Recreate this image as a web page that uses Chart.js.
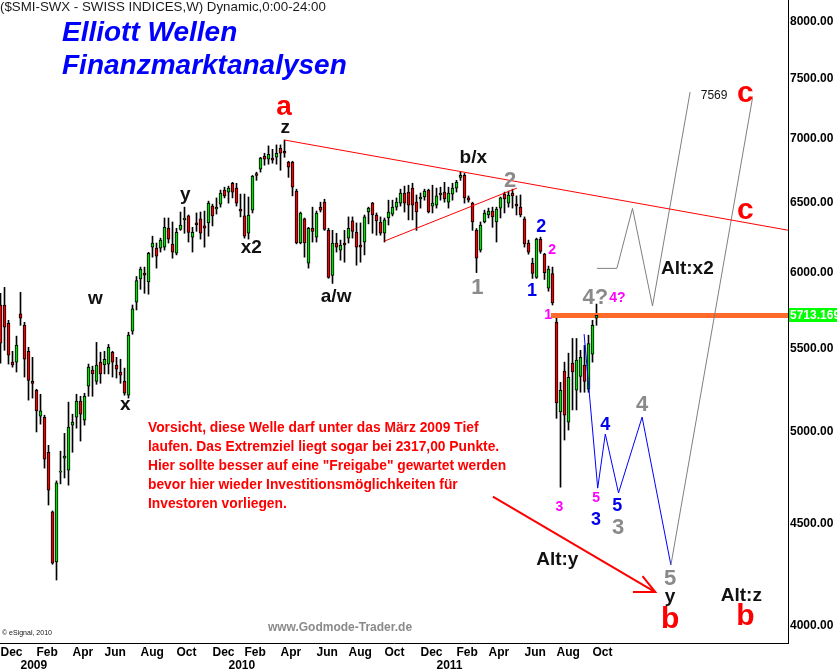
<!DOCTYPE html>
<html><head><meta charset="utf-8">
<script src="https://cdn.jsdelivr.net/npm/chart.js@4.4.0/dist/chart.umd.min.js"></script>
<style>html,body{margin:0;padding:0;background:#fff;}#wrap{width:837px;height:672px;}</style>
</head><body><div id="wrap"><canvas id="c" width="837" height="672"></canvas></div>
<script>
// ---- weekly SMI candles, first bar = week of 1 Dec 2008 ----
const opens = [5782,5782,5662,5415,5415,5723,5649,5483,5297,5243,
5089,5083,4883,4560,4305,4773,4850,4784,5037,5083,
5178,5066,5267,5366,5297,5415,5397,5403,5477,5397,
5354,5297,5213,5611,5801,5957,5998,5937,6179,6172,
6172,6179,6314,6201,6137,6306,6375,6404,6250,6353,
6382,6331,6353,6477,6455,6491,6597,6582,6649,6612,
6455,6404,6278,6447,6724,6757,6858,6835,6843,6850,
6921,6897,6812,6812,6590,6208,6382,6066,6314,6250,
6469,6506,6299,5981,6208,6158,6208,6243,6368,6285,
6194,6215,6433,6499,6411,6360,6278,6389,6418,6469,
6499,6575,6582,6612,6506,6530,6545,6597,6477,6484,
6560,6582,6506,6567,6612,6694,6709,6538,6499,6299,
6158,6360,6411,6440,6360,6462,6567,6499,6575,6491,
6469,6382,6208,6066,5967,6236,6129,5894,5995,5668,
5114,5360,5055,5409,5243,5327,5397,5249,5465,5695];
const highs = [5860,5900,5681,5483,5579,5867,5668,5508,5445,5249,
5219,5095,4922,4565,4725,4889,4990,5172,5101,5219,
5207,5225,5403,5390,5539,5477,5483,5526,5483,5445,
5433,5378,5604,5782,5974,6039,6039,6142,6257,6208,
6243,6389,6389,6360,6314,6433,6469,6411,6321,6426,
6433,6440,6514,6491,6538,6597,6619,6627,6656,6649,
6567,6567,6545,6709,6734,6850,6882,6940,6913,6948,
6948,6987,6819,6819,6604,6433,6389,6321,6469,6440,
6506,6528,6314,6299,6278,6229,6299,6397,6397,6353,
6353,6411,6469,6505,6426,6397,6389,6521,6521,6538,
6604,6627,6634,6649,6560,6575,6604,6604,6634,6612,
6619,6656,6619,6649,6671,6734,6724,6553,6506,6312,
6360,6447,6462,6469,6469,6545,6582,6590,6604,6553,
6560,6397,6229,6101,6243,6250,6135,6046,6039,5701,
5291,5415,5471,5564,5564,5489,5520,5585,5681,5788];
const lows = [5409,5489,5403,5384,5354,5649,5323,5184,5196,4998,
5043,4795,4596,4294,4217,4709,4741,4702,4883,5020,
4946,5037,5207,5207,5279,5285,5342,5342,5323,5317,
5285,5213,5196,5591,5749,5887,5860,5854,6108,6032,
6144,6158,6208,6101,6124,6299,6278,6215,6144,6292,
6236,6179,6257,6331,6418,6469,6538,6499,6538,6477,
6397,6243,6236,6426,6671,6734,6788,6796,6804,6796,
6749,6850,6694,6553,6202,6202,6108,6032,6215,6215,
6433,6299,5962,5927,6144,6087,6073,6208,6243,6052,
6073,6124,6346,6278,6264,6264,6215,6338,6404,6447,
6477,6433,6375,6375,6299,6462,6521,6426,6426,6462,
6521,6506,6462,6521,6582,6671,6499,6506,6299,6001,
6144,6353,6389,6321,6215,6389,6426,6469,6462,6411,
6397,6179,6129,5961,5961,6135,5954,5874,5782,5077,
4691,4952,5009,5126,5126,5231,5231,5231,5415,5649];
const closes = [5534,5636,5458,5397,5522,5695,5433,5303,5285,5120,
5120,4845,4675,4299,4714,4779,4861,5026,5055,5178,
5101,5207,5384,5342,5397,5342,5433,5508,5415,5372,
5335,5225,5585,5756,5947,6025,5984,6135,6208,6115,
6229,6321,6236,6144,6285,6338,6389,6285,6285,6338,
6278,6314,6499,6404,6469,6575,6553,6612,6582,6499,
6440,6257,6411,6701,6709,6843,6835,6874,6827,6882,
6882,6882,6772,6619,6208,6426,6208,6314,6292,6426,
6447,6306,5967,6208,6179,6194,6194,6314,6292,6179,
6179,6397,6462,6411,6368,6278,6375,6433,6469,6506,
6575,6499,6484,6484,6433,6545,6590,6433,6499,6553,
6575,6530,6575,6612,6656,6709,6538,6521,6360,6101,
6338,6426,6440,6397,6455,6538,6530,6560,6553,6477,
6411,6201,6144,5995,6236,6149,6001,6025,5795,5167,
5243,5095,5321,5354,5427,5445,5297,5532,5649,5713.169];

// ---- axis ticks ----
const tickWeeks  = [0,5,9,18,26,35,44,53,57,61,70,79,87,96,105,109,114,122,131,139,148];
const tickLabels = ['Dec',['','2009'],'Feb','Apr','Jun','Aug','Oct','Dec',['','2010'],'Feb','Apr','Jun','Aug','Oct','Dec',['','2011'],'Feb','Apr','Jun','Aug','Oct'];
const priceTicks = [4000,4500,5000,5500,6000,6500,7000,7500,8000];

// ---- drawn lines (week, price) ----
const resistWeeks = [71,196.9];           const resistPrices = [6987,6300];
const supportWeeks = [96,129.1];          const supportPrices = [6222,6612];
const levelWeeks = [137.6,196.9];         const levelPrices = [5713.169,5713.169];
const altX2Weeks = [149.1,154.1,158.0,163.0,172.4]; const altX2Prices = [6030,6030,6460,5775,7383];
const riseWeeks = [167.6,188.0];          const risePrices = [4290,7332];
const waveWeeks = [145.9,149.3,151.2,154.5,160.4,167.6]; const wavePrices = [5592,4686,4986,4660,5084,4290];
const arrowWeeks = [123.1,163.7];         const arrowPrices = [4640,4159];
const headWeeks = [160.5,163.7,158.1];    const headPrices = [4236,4159,4159];

// ---- wave labels ----
const labelTexts  = ['a','z','y','x2','w','x','a/w','b/x','2','1','2','1','2','1','4?','4?','3','5','3','4','5','3','4','5','y','b','Alt:y','Alt:x2','Alt:z','b','c','c','7569'];
const labelKinds  = ['redA','wave','wave','wave','wave','wave','wave','wave','gray','gray','blue','blue','mag','mag','gray','mag','mag','mag','blue','blue','blue','gray','gray','gray','wave','redB','wave','wave','wave','redB','redB','redB','small'];
const labelWeeks  = [70.9,71.2,46.2,62.7,23.7,31.2,83.9,118.2,127.4,119.2,135.2,132.9,137.9,136.9,148.7,154.2,139.7,148.9,148.9,151.2,154.2,154.4,160.4,167.4,167.4,167.4,139.2,171.7,185.2,186.2,186.2,186.2,178.4];
const labelPrices = [7257,7084,6560,6172,5822,5155,5835,6844,6666,5895,6323,5875,6158,5716,5828,5828,4585,4633,4517,5038,4591,4476,5155,4222,4135,4028,4315,6025,4140,4042,7366,6440,7349];

const noteLines = ['Vorsicht, diese Welle darf unter das März 2009 Tief',
 'laufen. Das Extremziel liegt sogar bei 2317,00 Punkte.',
 'Hier sollte besser auf eine "Freigabe" gewartet werden',
 'bevor hier wieder Investitionsmöglichkeiten für',
 'Investoren vorliegen.'];

const FONT = '"Liberation Sans", Arial, sans-serif';
const styles = {
  wave:{font:'bold 19px '+FONT, color:'#111'},
  redA:{font:'bold 28px '+FONT, color:'#ff0000'},
  redB:{font:'bold 30px '+FONT, color:'#ff0000'},
  gray:{font:'bold 22px '+FONT, color:'#8a8a8a'},
  blue:{font:'bold 18px '+FONT, color:'#0000ee'},
  mag:{font:'bold 14px '+FONT, color:'#ff00ff'},
  small:{font:'12px '+FONT, color:'#111'}
};

const idx = closes.map((_, i) => i);
const pts = (ws, ps) => ws.map((w, i) => ({x: w, y: ps[i]}));
const lineDs = (ws, ps, color, width, order) => ({type:'line', data: pts(ws, ps), borderColor: color, borderWidth: width,
  pointRadius: 0, fill: false, tension: 0, order: order});

const annot = {
  id: 'annot',
  beforeDraw(chart) {
    const c = chart.ctx; c.save(); c.fillStyle = '#fff'; c.fillRect(0, 0, chart.width, chart.height); c.restore();
  },
  afterDraw(chart) {
    const c = chart.ctx, xs = chart.scales.x, ys = chart.scales.y;
    c.save();
    c.textAlign = 'center'; c.textBaseline = 'middle';
    labelTexts.forEach((t, i) => {
      const st = styles[labelKinds[i]];
      c.font = st.font; c.fillStyle = st.color;
      c.fillText(t, xs.getPixelForValue(labelWeeks[i]), ys.getPixelForValue(labelPrices[i]));
    });
    // header and titles
    c.textAlign = 'left';
    c.font = '13.3px ' + FONT; c.fillStyle = '#1a1a1a';
    c.fillText('($SMI-SWX - SWISS INDICES,W) Dynamic,0:00-24:00', 0, 7);
    c.font = 'italic bold 28px ' + FONT; c.fillStyle = '#0000ff';
    c.fillText('Elliott Wellen', 62, 33);
    c.fillText('Finanzmarktanalysen', 62, 66);
    // note
    c.font = 'bold 13.8px ' + FONT; c.fillStyle = '#ff0000';
    noteLines.forEach((t, i) => c.fillText(t, 148, 428 + i * 19));
    // footer
    c.font = 'bold 12px ' + FONT; c.fillStyle = '#8a8a8a'; c.textAlign = 'center';
    c.fillText('www.Godmode-Trader.de', 340, 628);
    c.font = '7px ' + FONT; c.fillStyle = '#111'; c.textAlign = 'left';
    c.fillText('\u00a9 eSignal, 2010', 2, 633);
    // last price tag
    const last = closes[closes.length - 1];
    const yc = Math.round(ys.getPixelForValue(last));
    c.fillStyle = '#00ff00'; c.fillRect(xs.right + 1, yc - 7, chart.width - xs.right - 1, 14);
    c.fillStyle = '#ffffff'; c.font = 'bold 12px ' + FONT;
    c.fillText(last.toFixed(3), xs.right + 2, yc + 1);
    c.restore();
  }
};

new Chart(document.getElementById('c'), {
  type: 'bar',
  data: { datasets: [
    {type:'bar', data: idx.map(i => ({x: i, y: [opens[i], closes[i]]})),
     backgroundColor: idx.map(i => closes[i] >= opens[i] ? '#00dd00' : '#ee0000'),
     borderColor: '#000', borderWidth: 1, borderSkipped: false, barThickness: 3, grouped: false, order: 2},
    {type:'bar', data: idx.map(i => ({x: i, y: [lows[i], highs[i]]})),
     backgroundColor: '#000', borderWidth: 0, barThickness: 1, grouped: false, order: 4},
    lineDs(levelWeeks, levelPrices, '#ff6a2a', 5, 3),
    lineDs(resistWeeks, resistPrices, '#ff0000', 1, 1),
    lineDs(supportWeeks, supportPrices, '#ff0000', 1, 1),
    lineDs(altX2Weeks, altX2Prices, '#808080', 1, 1),
    lineDs(riseWeeks, risePrices, '#808080', 1, 1),
    lineDs(waveWeeks, wavePrices, '#0000ff', 1, 1),
    lineDs(arrowWeeks, arrowPrices, '#ff0000', 2, 1),
    lineDs(headWeeks, headPrices, '#ff0000', 2, 1)
  ]},
  options: {
    responsive: false, devicePixelRatio: 1, animation: false, events: [],
    layout: { padding: 0 },
    plugins: { legend: {display: false}, tooltip: {enabled: false}, title: {display: false} },
    scales: {
      x: { type: 'linear', min: -0.125, max: 196.875, offset: false, position: 'bottom',
        grid: {display: false, drawTicks: false}, border: {display: true, color: '#000', width: 1},
        afterBuildTicks: s => { s.ticks = tickWeeks.map(v => ({value: v})); },
        afterFit: s => { s.height = 29; s.paddingLeft = 0; s.paddingRight = 0; },
        ticks: { autoSkip: false, maxRotation: 0, minRotation: 0, align: 'start', padding: 3, color: '#000',
          font: {family: FONT, size: 12, weight: 'bold', lineHeight: 1.1},
          callback: (v, i) => tickLabels[i] }
      },
      y: { type: 'logarithmic', position: 'right', min: 3923, max: 8205,
        grid: {display: false, drawTicks: false}, border: {display: true, color: '#000', width: 1},
        afterBuildTicks: s => { s.ticks = priceTicks.map(v => ({value: v})); },
        afterFit: s => { s.width = 49; s.paddingTop = 0; s.paddingBottom = 0; },
        ticks: { padding: 2, color: '#000', font: {family: FONT, size: 12, weight: 'bold'},
          callback: v => Number(v).toFixed(2) }
      }
    }
  },
  plugins: [annot]
});
</script></body></html>
